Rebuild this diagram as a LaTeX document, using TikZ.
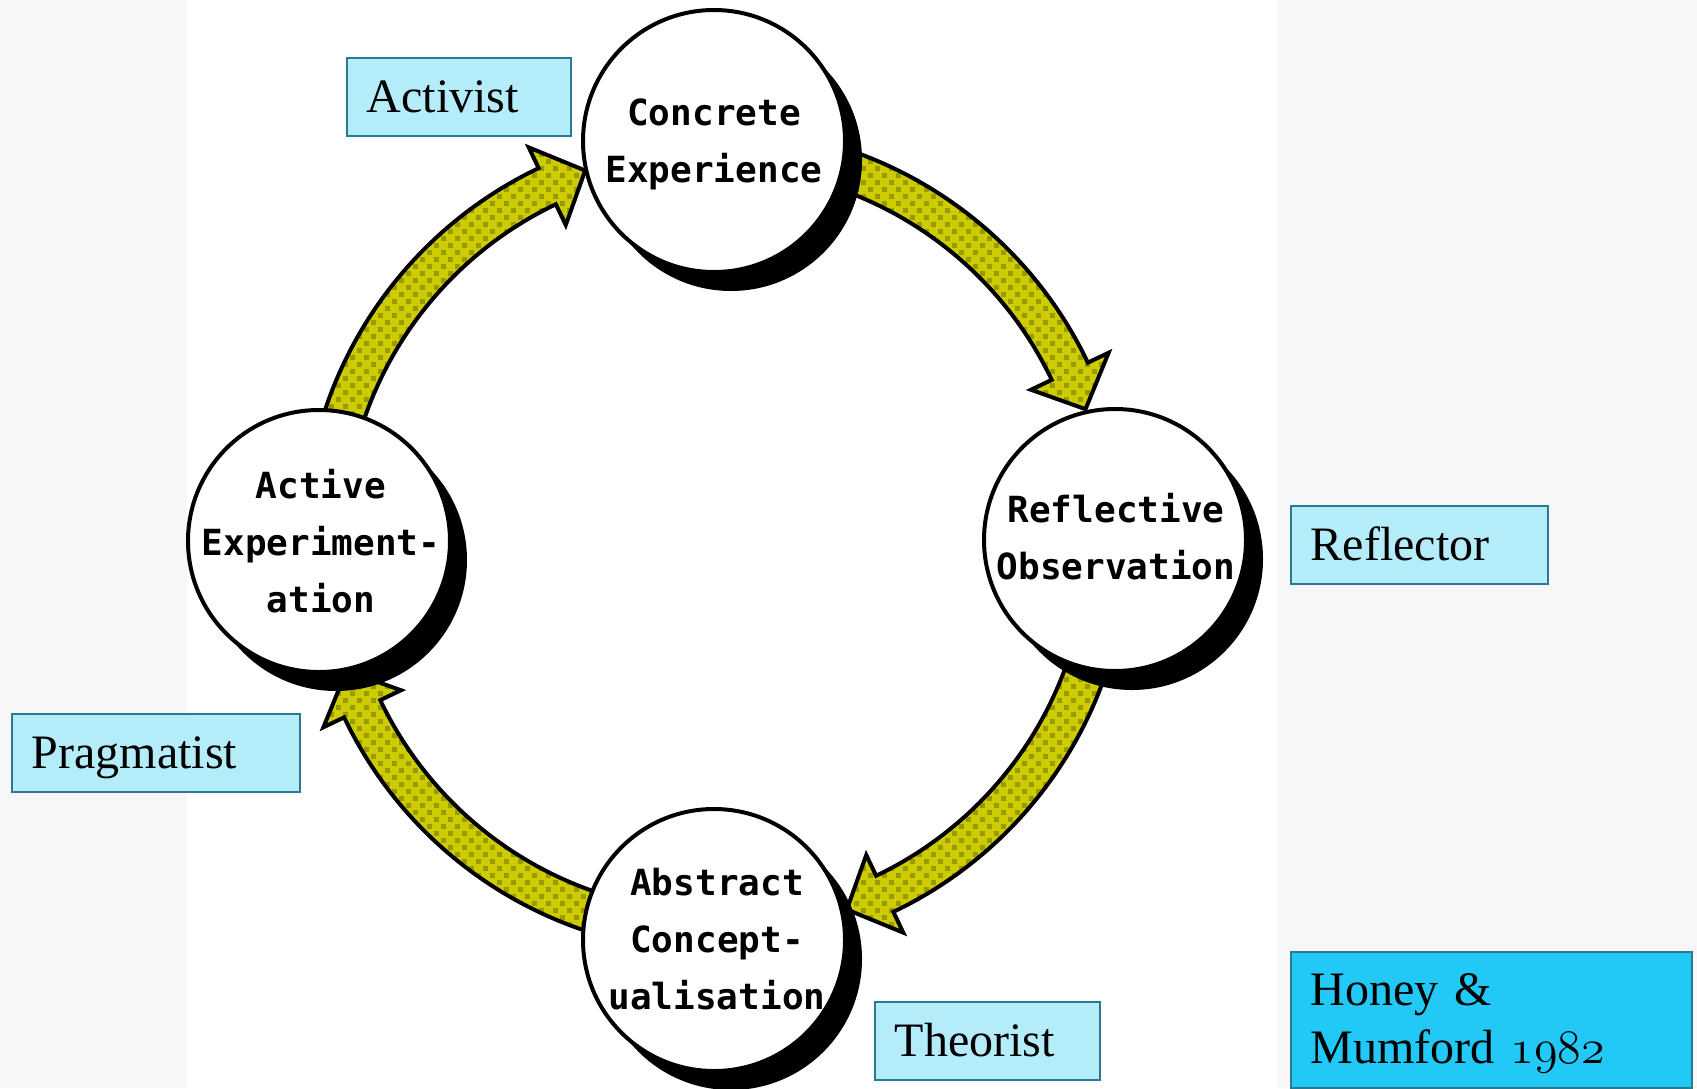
\documentclass[tikz,border=0pt]{standalone}
\usepackage{fix-cm}
\usepackage{fontspec}
\setmainfont{Liberation Serif}
\usetikzlibrary{shapes.geometric,patterns.meta}
\newfontfamily\pixfont{DejaVu Sans Mono}
\definecolor{ylw}{HTML}{CCCC00}
\definecolor{olv}{HTML}{999900}
\definecolor{lblfill}{HTML}{B5ECFA}
\definecolor{lbldraw}{HTML}{2B7A92}
\definecolor{hmfill}{HTML}{22C8F6}
\definecolor{stripc}{HTML}{F7F7F7}
\tikzdeclarepattern{
  name=olivedots,
  type=uncolored,
  bottom left={(-.1pt,-.1pt)},
  top right={(14.1pt,14.1pt)},
  tile size={(14pt,14pt)},
  code={\fill (0pt,0pt) rectangle (5pt,5pt); \fill (7pt,7pt) rectangle (12pt,12pt);}
}
\tikzset{
  arrowshape/.style={preaction={fill=ylw}, pattern=olivedots, pattern color=olv, draw=black, line width=4pt, line join=miter},
  bub/.style={circle, draw=black, fill=white, line width=4pt, minimum size=262pt, inner sep=0pt},
  pix/.style={font=\pixfont\bfseries\fontsize{36}{57}\selectfont, align=center, inner sep=0pt},
  lbl/.style={draw=lbldraw, fill=lblfill, line width=1.8pt, font=\fontsize{48}{58}\selectfont, inner xsep=20pt, inner ysep=0pt, text height=36pt, text depth=4pt, anchor=north west, align=left},
}
\newcommand\cyclearrow[1]{%
  \begin{scope}[shift={(hub)}]
    \path[arrowshape] (#1+72:412) arc[start angle=#1+72, end angle=#1+25.5, radius=412]
      -- (#1+25.5:435) -- (#1+19.5:392) -- (#1+25.5:349) -- (#1+25.5:372)
      arc[start angle=#1+25.5, end angle=#1+72, radius=372] -- cycle;
  \end{scope}}
\begin{document}
\begin{tikzpicture}[x=1pt,y=1pt]
\useasboundingbox (0,0) rectangle (1697,-1088);
\fill[white] (0,0) rectangle (1697,-1088);
\fill[stripc] (0,0) rectangle (187,-1088);
\fill[stripc] (1278,0) rectangle (1697,-1088);
\coordinate (hub) at (716,-540);
% arrows
\cyclearrow{0}
\cyclearrow{-90}
\cyclearrow{-180}
\cyclearrow{90}
% shadows
\fill[black] (714,-141) ++(17,-19) circle[radius=131];
\fill[black] (1115,-540) ++(17,-19) circle[radius=131];
\fill[black] (319,-541) ++(17,-19) circle[radius=131];
\fill[black] (714,-940) ++(17,-19) circle[radius=131];
% circles
\node[bub] (ce) at (714,-141) {};
\node[bub] (ro) at (1115,-540) {};
\node[bub] (ae) at (319,-541) {};
\node[bub] (ac) at (714,-940) {};
\node[pix] (cet) at (714,-144.7) {Concrete\\Experience};
\node[pix] (rot) at (1116,-536.3) {Reflective\\Observation};
\node[pix] (aet) at (321,-540.8) {Active\\Experiment-\\ation};
\node[pix] (act) at (717,-938.8) {Abstract\\Concept-\\ualisation};
% labels
\node[lbl, text width=184pt, minimum height=78pt] (activist) at (346,-57) {Activist};
\node[lbl, text width=217pt, minimum height=78pt] (reflector) at (1290,-505) {Reflector};
\node[lbl, text width=248pt, minimum height=78pt] (pragmatist) at (11,-713) {Pragmatist};
\node[lbl, text width=185pt, minimum height=78pt] (theorist) at (874,-1001) {Theorist};
\node[draw=lbldraw, fill=hmfill, line width=1.8pt, font=\fontsize{48}{58}\selectfont, inner xsep=20pt, inner ysep=0pt, text height=33pt, text depth=62pt, anchor=north west, align=left, text width=361pt, minimum height=136pt] (hm) at (1290,-951) {Honey \&\\Mumford {\usefont{OML}{cmm}{m}{it}1982}};
\end{tikzpicture}
\end{document}
